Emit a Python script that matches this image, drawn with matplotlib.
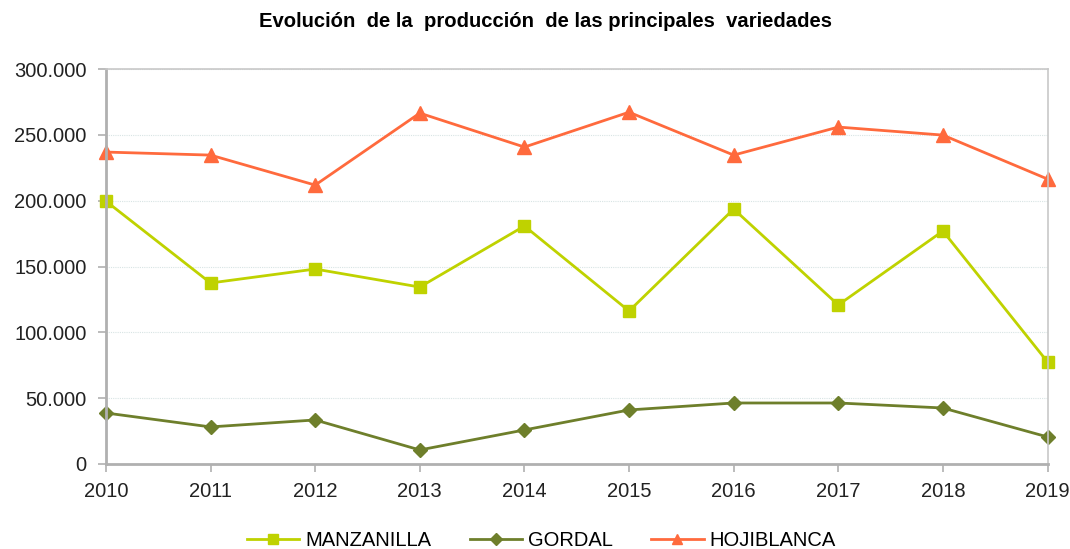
import matplotlib.pyplot as plt
from matplotlib.ticker import FuncFormatter

plt.rcParams['font.family'] = ['Liberation Sans', 'DejaVu Sans']

# Data
years = [2010, 2011, 2012, 2013, 2014, 2015, 2016, 2017, 2018, 2019]
manzanilla = [199700, 137500, 148100, 134400, 180800, 116200, 193700, 120800, 177000, 77500]
gordal = [38700, 28100, 33400, 10600, 25800, 41000, 46300, 46300, 42500, 20500]
hojiblanca = [237000, 234700, 211900, 266600, 240800, 267300, 234700, 256000, 249900, 216500]

fig = plt.figure(figsize=(10.7, 5.49), dpi=100)
ax = fig.add_axes([0.099, 0.155, 0.880, 0.719])

ax.plot(years, manzanilla, color='#BFD200', lw=2, marker='s', ms=9, label='MANZANILLA', clip_on=False)
ax.plot(years, gordal, color='#6E7F2B', lw=2, marker='D', ms=7.5, label='GORDAL', clip_on=False)
ax.plot(years, hojiblanca, color='#FF6A3D', lw=2, marker='^', ms=10, label='HOJIBLANCA', clip_on=False)

ax.set_xlim(2010, 2019)
ax.set_ylim(0, 300000)
ax.set_xticks(years)
ax.set_yticks(range(0, 300001, 50000))
ax.yaxis.set_major_formatter(FuncFormatter(lambda v, p: f'{int(v):,}'.replace(',', '.')))
ax.grid(axis='y', color='#D8E4E4', lw=0.8, ls=(0, (1, 1)))
ax.set_axisbelow(True)

for s in ['left', 'bottom']:
    ax.spines[s].set_color('#B0B0B0')
    ax.spines[s].set_linewidth(2)
for s in ['top', 'right']:
    ax.spines[s].set_color('#C8C8C8')
    ax.spines[s].set_linewidth(1.2)
ax.tick_params(axis='both', colors='#B0B0B0', labelcolor='#222222', labelsize=14.5, length=6, width=1.2, direction='out')
ax.tick_params(axis='x', pad=7)
ax.tick_params(axis='y', pad=8)

fig.text(0.51, 0.96, 'Evolución  de la  producción  de las principales  variedades', fontsize=14.6,
         fontweight='bold', ha='center', va='center')

fig.legend(loc='lower center', bbox_to_anchor=(0.506, -0.035), ncol=3, frameon=False,
           fontsize=14.5, handlelength=2.6, columnspacing=1.9, handletextpad=0.3, markerscale=0.75)

fig.savefig('out.png', dpi=100)
